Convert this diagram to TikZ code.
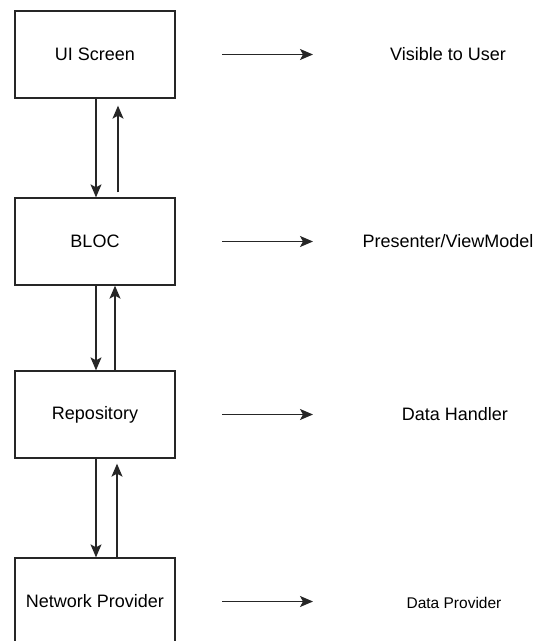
\documentclass[tikz,border=0pt]{standalone}
\usepackage{fontspec}
\setmainfont{Liberation Sans}
\usepackage{tikz}
\usetikzlibrary{arrows.meta,positioning}

\tikzset{
	box/.style={draw=black!85, line width=1.3pt, minimum width=160pt, minimum height=87pt, inner sep=0pt, font=\fontsize{18}{21}\selectfont},
	label/.style={inner sep=0pt, font=\fontsize{18}{21}\selectfont},
	pfeil/.style={draw=black!85, line width=1.2pt, -{Stealth[length=13pt,width=11pt,inset=3pt]}}
}

\begin{document}
\begin{tikzpicture}[x=1pt,y=-1pt]
		\useasboundingbox (0,0) rectangle (544,641);

		% Boxen
		\node[box] (ui) at (95,54.5) {UI Screen};
		\node[box] (bloc) at (95,241.5) {BLOC};
		\node[box] (repo) at (95,414.5) {Repository};
		\node[box] (net) at (95,601.5) {Network Provider};

		% Beschriftungen
		\node[label] (visible) at (448,54.5) {Visible to User};
		\node[label] (presenter) at (448,241.5) {Presenter/ViewModel};
		\node[label] (handler) at (455,414.5) {Data Handler};
		\node[label, font=\fontsize{15.5}{18}\selectfont] (provider) at (454,603) {Data Provider};

		% Koordinaten
		\coordinate (ui-a) at (222,54.5);
		\coordinate (ui-b) at (313,54.5);
		\coordinate (bloc-a) at (222,241.5);
		\coordinate (bloc-b) at (313,241.5);
		\coordinate (repo-a) at (222,414.5);
		\coordinate (repo-b) at (313,414.5);
		\coordinate (net-a) at (222,601.5);
		\coordinate (net-b) at (313,601.5);

		% Pfeile nach rechts
		\draw[pfeil] (ui-a) -- (ui-b);
		\draw[pfeil] (bloc-a) -- (bloc-b);
		\draw[pfeil] (repo-a) -- (repo-b);
		\draw[pfeil] (net-a) -- (net-b);

		% Pfeile zwischen den Boxen
		\draw[pfeil] ([xshift=1pt]ui.south) -- ([xshift=1pt]bloc.north);
		\draw[pfeil] ([xshift=23pt,yshift=5pt]bloc.north) -- ([xshift=23pt,yshift=-7pt]ui.south);
		\draw[pfeil] ([xshift=1pt]bloc.south) -- ([xshift=1pt]repo.north);
		\draw[pfeil] ([xshift=20pt]repo.north) -- ([xshift=20pt]bloc.south);
		\draw[pfeil] ([xshift=1pt]repo.south) -- ([xshift=1pt]net.north);
		\draw[pfeil] ([xshift=22pt]net.north) -- ([xshift=22pt,yshift=-5pt]repo.south);
	\end{tikzpicture}
\end{document}
